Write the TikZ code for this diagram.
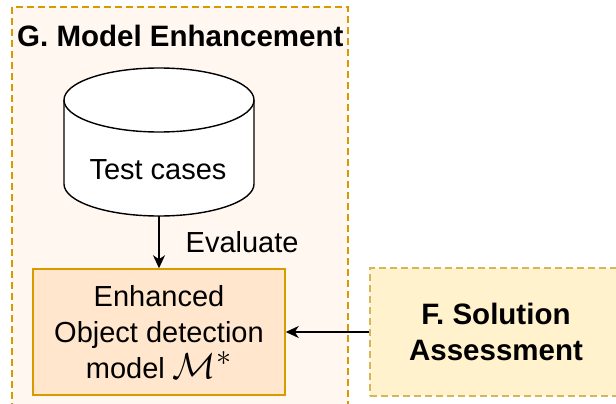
\documentclass[tikz,border=0pt]{standalone}
\usepackage{fontspec}
\usepackage{graphicx}
\setmainfont{Liberation Sans}
\usetikzlibrary{arrows.meta}
\definecolor{groupfill}{HTML}{FFF7F0}
\definecolor{orangeline}{HTML}{D79B00}
\definecolor{orangefill}{HTML}{FFE6CC}
\definecolor{yellowfill}{HTML}{FFF2CC}
\definecolor{yellowline}{HTML}{D6B656}
\tikzset{
  txt/.style={font=\fontsize{29}{36}\selectfont, inner sep=0pt},
  bold/.style={font=\fontsize{29.5}{36}\selectfont\bfseries, inner sep=0pt},
  dashedline/.style={dash pattern=on 7pt off 4pt, line width=1.5pt},
  conn/.style={line width=1.4pt, -{Stealth[length=13pt,width=12pt,inset=4pt]}},
}
\begin{document}
\begin{tikzpicture}[x=1pt,y=-1pt]
  \clip (0,0) rectangle (616,404);
  \fill[white] (0,0) rectangle (616,404);
  % group G
  \draw[dashedline, draw=orangeline, fill=groupfill] (12,7) rectangle (348,430);
  \node[bold, anchor=base west] (gtitle) at (17,47) {G. Model Enhancement};
  % test case cylinder
  \draw[line width=1.4pt, fill=white]
    (64,100) -- (64,184) arc (180:360:95pt and 32pt) -- (254,100)
    arc (0:180:95pt and 32pt) -- cycle;
  \draw[line width=1.4pt] (64,100) arc (180:360:95pt and 32pt);
  \node[txt, anchor=base] (tests) at (158,179) {Test cases};
  \coordinate (testsbottom) at (159,216);
  % enhanced model
  \node[txt, draw=orangeline, fill=orangefill, line width=1.5pt,
        minimum width=252pt, minimum height=126pt, align=center]
        (enh) at (159,332) {Enhanced\\Object detection\\model \smash{\scalebox{1.45}{$\mathcal{M}^{*}$}}};
  % solution assessment
  \node[bold, draw=yellowline, fill=yellowfill, dashedline,
        minimum width=252pt, minimum height=128pt, align=center]
        (sol) at (496,332) {F. Solution\\Assessment};
  % connectors
  \draw[conn] (testsbottom) -- (enh.north)
    node[txt, pos=0.5, anchor=west, xshift=26pt] (evallbl) {Evaluate};
  \draw[conn] (sol.west) -- (enh.east);
\end{tikzpicture}
\end{document}
